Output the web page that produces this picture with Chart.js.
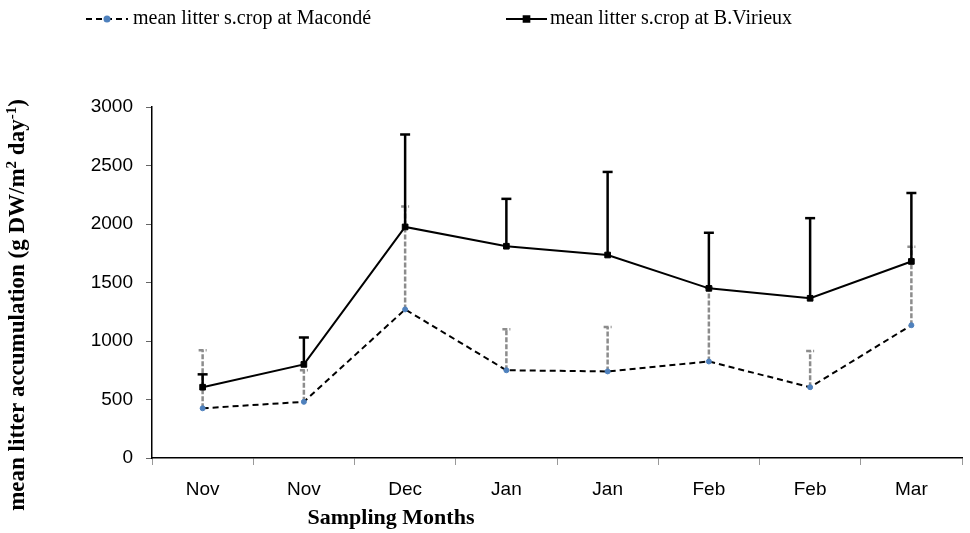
<!DOCTYPE html>
<html>
<head>
<meta charset="utf-8">
<script src="https://cdn.jsdelivr.net/npm/chart.js@4/dist/chart.umd.min.js"></script>
<style>
  html, body { margin: 0; padding: 0; background: #fff; }
  #wrap { width: 970px; height: 533px; }
</style>
</head>
<body>
<div id="wrap"><canvas id="c" width="970" height="533"></canvas></div>
<script>
// values
var months = ['Nov', 'Nov', 'Dec', 'Jan', 'Jan', 'Feb', 'Feb', 'Mar'];
var macondeMean = [425, 480, 1270, 750, 740, 825, 605, 1135];
var macondeErr = [495, 270, 880, 350, 380, 630, 310, 670];
var virieuxMean = [605, 800, 1975, 1810, 1735, 1450, 1365, 1680];
var virieuxErr = [110, 230, 790, 405, 710, 475, 685, 585];
var yMin = 0, yMax = 3000, yStep = 500;

var legendLabels = ['mean litter s.crop at Macondé', 'mean litter s.crop at B.Virieux'];
var xTitle = 'Sampling Months';

// error bars, drawn under the lines
var errorBars = {
  id: 'errorBars',
  beforeDatasetsDraw: function(chart) {
    var ctx = chart.ctx, yScale = chart.scales.y;
    chart.data.datasets.forEach(function(ds, i) {
      var meta = chart.getDatasetMeta(i);
      ctx.save();
      ctx.strokeStyle = ds.errColor;
      ctx.lineWidth = ds.errWidth;
      ctx.setLineDash(ds.errDash);
      meta.data.forEach(function(pt, j) {
        var top = yScale.getPixelForValue(ds.data[j] + ds.errors[j]);
        ctx.beginPath();
        ctx.moveTo(pt.x, pt.y);
        ctx.lineTo(pt.x, top);
        ctx.stroke();
        ctx.beginPath();
        ctx.moveTo(pt.x - ds.errCap, top);
        ctx.lineTo(pt.x + ds.errCap, top);
        ctx.stroke();
      });
      ctx.restore();
    });
  }
};

// legend + axis titles in the old excel layout
var decorations = {
  id: 'decorations',
  afterDraw: function(chart) {
    var ctx = chart.ctx;
    var ds = chart.data.datasets;
    ctx.save();
    // legend
    var items = [{x1: 86, x2: 128, tx: 133}, {x1: 506, x2: 547, tx: 550}];
    items.forEach(function(it, i) {
      var d = ds[i], ly = 19;
      ctx.strokeStyle = d.borderColor;
      ctx.lineWidth = d.borderWidth;
      ctx.setLineDash(d.borderDash || []);
      ctx.beginPath(); ctx.moveTo(it.x1, ly); ctx.lineTo(it.x2, ly); ctx.stroke();
      ctx.setLineDash([]);
      ctx.fillStyle = d.pointBackgroundColor;
      ctx.strokeStyle = d.pointBorderColor;
      Chart.helpers.drawPoint(ctx, {pointStyle: d.pointStyle, radius: d.pointRadius, borderWidth: 1}, (it.x1 + it.x2) / 2, ly);
      ctx.fillStyle = '#000';
      ctx.font = '20px "Liberation Serif", "Times New Roman", serif';
      ctx.textBaseline = 'middle';
      ctx.textAlign = 'left';
      ctx.fillText(legendLabels[i], it.tx, ly);
    });

    // x title
    ctx.fillStyle = '#000';
    ctx.font = 'bold 22px "Liberation Serif", "Times New Roman", serif';
    ctx.textAlign = 'center';
    ctx.textBaseline = 'middle';
    ctx.fillText(xTitle, 391, 518);

    // y title with superscripts
    var parts = [['mean litter accumulation (g DW/m', 0], ['2', 1], [' day', 0], ['-1', 1], [')', 0]];
    var big = 'bold 23px "Liberation Serif", "Times New Roman", serif';
    var small = 'bold 15px "Liberation Serif", "Times New Roman", serif';
    var total = 0;
    parts.forEach(function(p) { ctx.font = p[1] ? small : big; total += ctx.measureText(p[0]).width; });
    ctx.translate(18, 305);
    ctx.rotate(-Math.PI / 2);
    ctx.textAlign = 'left';
    ctx.textBaseline = 'middle';
    var px = -total / 2;
    parts.forEach(function(p) {
      ctx.font = p[1] ? small : big;
      ctx.fillText(p[0], px, p[1] ? -6 : 0);
      px += ctx.measureText(p[0]).width;
    });
    ctx.restore();
  }
};

new Chart(document.getElementById('c'), {
  type: 'line',
  data: {
    labels: months,
    datasets: [
      {
        label: legendLabels[0],
        data: macondeMean,
        errors: macondeErr,
        borderColor: '#000',
        borderWidth: 2,
        borderDash: [6, 4],
        pointStyle: 'circle',
        pointRadius: 2.5,
        pointBackgroundColor: '#4f81bd',
        pointBorderColor: '#4f81bd',
        pointBorderWidth: 1,
        errColor: '#8c8c8c',
        errWidth: 2.5,
        errDash: [5, 2],
        errCap: 4
      },
      {
        label: legendLabels[1],
        data: virieuxMean,
        errors: virieuxErr,
        borderColor: '#000',
        borderWidth: 2,
        pointStyle: 'rect',
        pointRadius: 4,
        pointBackgroundColor: '#000',
        pointBorderColor: '#000',
        pointBorderWidth: 1,
        errColor: '#000',
        errWidth: 2.5,
        errDash: [],
        errCap: 5
      }
    ]
  },
  options: {
    responsive: false,
    animation: false,
    layout: { padding: { top: 107, right: 8, left: 0, bottom: 0 } },
    plugins: {
      legend: { display: false },
      tooltip: { enabled: false }
    },
    scales: {
      x: {
        offset: true,
        grid: { offset: true, drawOnChartArea: false, drawTicks: true, tickLength: 7, color: '#999', lineWidth: 1 },
        border: { color: '#000', width: 1.5 },
        ticks: { color: '#000', padding: 13, font: { family: '"Liberation Sans", Arial, sans-serif', size: 19 }, maxRotation: 0 },
        afterFit: function(scale) { scale.height = 75; }
      },
      y: {
        min: yMin,
        max: yMax,
        grid: { drawOnChartArea: false, drawTicks: true, tickLength: 6, color: '#666', lineWidth: 1 },
        border: { color: '#000', width: 1.5 },
        ticks: {
          stepSize: yStep, color: '#000', padding: 13,
          font: { family: '"Liberation Sans", Arial, sans-serif', size: 19 },
          callback: function(v) { return String(v); }
        },
        afterFit: function(scale) { scale.width = 152; }
      }
    }
  },
  plugins: [errorBars, decorations]
});
</script>
</body>
</html>
